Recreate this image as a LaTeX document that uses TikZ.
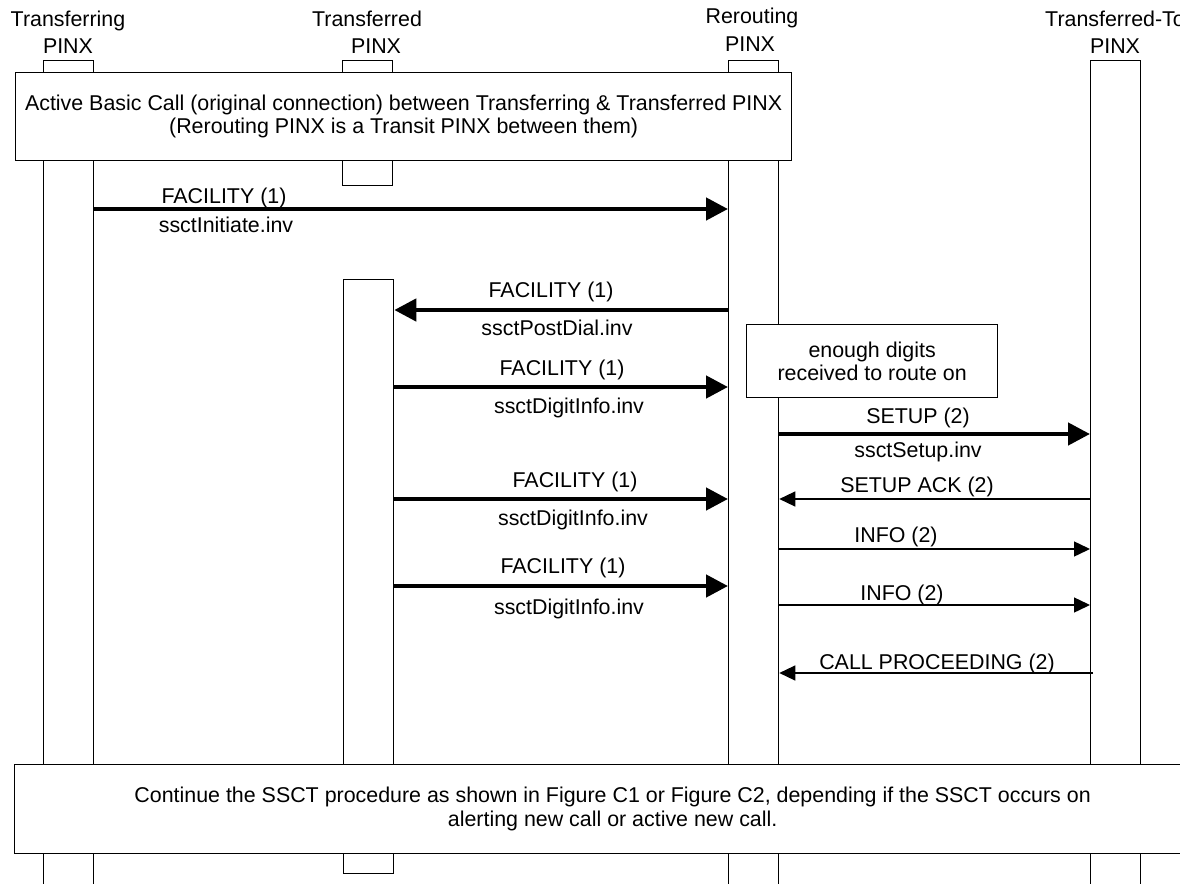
\documentclass[tikz,border=0pt]{standalone}
\usepackage{fontspec}
\setmainfont{Liberation Sans}
\usetikzlibrary{arrows.meta}
\begin{document}
\begin{tikzpicture}[x=1pt,y=-1pt,
  every node/.style={font=\fontsize{21.4}{23.5}\selectfont, inner sep=0pt},
  bar/.style={draw, line width=1.3pt, minimum width=50pt, inner sep=0pt, anchor=north west},
  infobox/.style={draw, line width=1.3pt, fill=white, align=center, anchor=north west},
  lbl/.style={anchor=base},
  bigmsg/.style={line width=4.5pt, -{Triangle[length=22pt,width=22pt]}},
  smallmsg/.style={line width=1.4pt, -{Triangle[length=16pt,width=15pt]}}
]
\useasboundingbox (0,0) rectangle (1180,883);

% headers
\node[lbl] (h1a) at (68,27) {Transferring};
\node[lbl] (h1b) at (68,53) {PINX};
\node[lbl] (h2a) at (367,27) {Transferred};
\node[lbl] (h2b) at (376,53) {PINX};
\node[lbl] (h3a) at (752,24) {Rerouting};
\node[lbl] (h3b) at (750,52) {PINX};
\node[lbl] (h4a) at (1115,27) {Transferred-To};
\node[lbl] (h4b) at (1115,53) {PINX};

% lifelines
\node[bar, minimum height=830pt] (b1) at (43,60) {};
\node[bar, minimum height=125pt] (b2s) at (342,60) {};
\node[bar, minimum height=594pt] (b2) at (343,279) {};
\node[bar, minimum height=830pt] (b3) at (728,60) {};
\node[bar, minimum height=830pt] (b4) at (1090,60) {};

% boxes
\node[infobox, minimum width=776pt, minimum height=88pt] (act) at (15,72)
  {Active Basic Call (original connection) between Transferring \& Transferred PINX\\(Rerouting PINX is a Transit PINX between them)};
\node[infobox, minimum width=1196pt, minimum height=89pt] (cont) at (14,764)
  {Continue the SSCT procedure as shown in Figure C1 or Figure C2, depending if the SSCT occurs on\\alerting new call or active new call.};
\node[infobox, minimum width=251pt, minimum height=73pt] (dig) at (746,324)
  {enough digits\\received to route on};

% messages
\draw[bigmsg] (b1.east |- 0,209) -- (b3.west |- 0,209);
\node[lbl] (m1a) at (224,203) {FACILITY (1)};
\node[lbl] (m1b) at (226,232) {ssctInitiate.inv};

\draw[bigmsg] (b3.west |- 0,310) -- (b2.east |- 0,310);
\node[lbl] (m2a) at (551,297) {FACILITY (1)};
\node[lbl] (m2b) at (557,335) {ssctPostDial.inv};

\draw[bigmsg] (b2.east |- 0,387) -- (b3.west |- 0,387);
\node[lbl] (m3a) at (562,375) {FACILITY (1)};
\node[lbl] (m3b) at (569,413) {ssctDigitInfo.inv};

\draw[bigmsg] (b3.east |- 0,434) -- (b4.west |- 0,434);
\node[lbl] (m4a) at (918,423) {SETUP (2)};
\node[lbl] (m4b) at (918,457) {ssctSetup.inv};

\draw[bigmsg] (b2.east |- 0,499) -- (b3.west |- 0,499);
\node[lbl] (m5a) at (575,487) {FACILITY (1)};
\node[lbl] (m5b) at (573,525) {ssctDigitInfo.inv};

\draw[smallmsg] (b4.west |- 0,499) -- (b3.east |- 0,499);
\node[lbl] (m6a) at (917,492) {SETUP ACK (2)};

\draw[smallmsg] (b3.east |- 0,549) -- (b4.west |- 0,549);
\node[lbl] (m7a) at (896,542) {INFO (2)};

\draw[bigmsg] (b2.east |- 0,586) -- (b3.west |- 0,586);
\node[lbl] (m8a) at (563,573) {FACILITY (1)};
\node[lbl] (m8b) at (569,614) {ssctDigitInfo.inv};

\draw[smallmsg] (b3.east |- 0,605) -- (b4.west |- 0,605);
\node[lbl] (m9a) at (902,600) {INFO (2)};

\coordinate (cpstart) at (1093,673);
\draw[smallmsg] (cpstart) -- (b3.east |- cpstart);
\node[lbl] (m10a) at (937,669) {CALL PROCEEDING (2)};
\end{tikzpicture}
\end{document}
